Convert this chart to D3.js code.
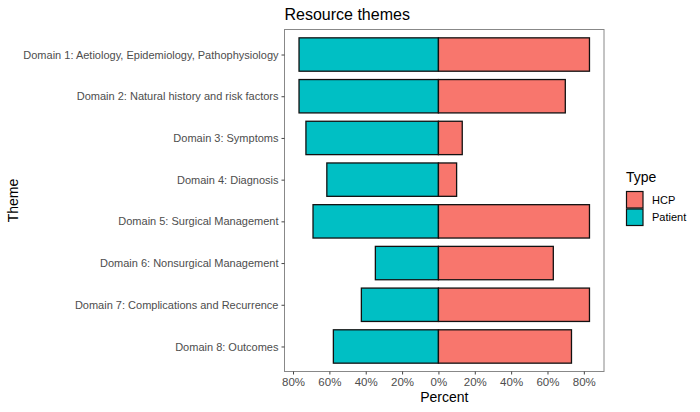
<!DOCTYPE html>
<html>
<head>
<meta charset="utf-8">
<script src="https://cdn.jsdelivr.net/npm/d3@7"></script>
<style>
body { margin: 0; background: #fff; }
text { font-family: "Liberation Sans", Arial, sans-serif; }
</style>
</head>
<body>
<svg id="chart" width="700" height="412"></svg>
<script>
// values (percent)
const themes = [
  "Domain 1: Aetiology, Epidemiology, Pathophysiology",
  "Domain 2: Natural history and risk factors",
  "Domain 3: Symptoms",
  "Domain 4: Diagnosis",
  "Domain 5: Surgical Management",
  "Domain 6: Nonsurgical Management",
  "Domain 7: Complications and Recurrence",
  "Domain 8: Outcomes"
];
const hcp = [83.1, 69.8, 13.1, 10.0, 83.1, 63.2, 83.1, 73.2];
const patient = [76.7, 76.7, 72.9, 61.4, 69.0, 34.7, 42.4, 57.8];
const types = ["HCP", "Patient"];
const typeColors = ["#F8766D", "#00BFC4"];
const xTicks = [-80, -60, -40, -20, 0, 20, 40, 60, 80];

var svg = d3.select("#chart");
var margin = { top: 29.5, right: 96, bottom: 40.5, left: 284.5 };
var width = 700 - margin.left - margin.right;
var height = 412 - margin.top - margin.bottom;

// 5% padding on each side like ggplot
var lo = -d3.max(patient), hi = d3.max(hcp);
var pad = (hi - lo) * 0.05;
var x = d3.scaleLinear().domain([lo - pad, hi + pad]).range([0, width]);

// discrete axis, 0.6 step of expansion each end
var step = height / (themes.length - 1 + 1.2);
var y = d3.scalePoint().domain(themes).range([0.6 * step, height - 0.6 * step]);
var bh = step * 0.8;

var color = d3.scaleOrdinal().domain(types).range(typeColors);

var g = svg.append("g").attr("transform", "translate(" + margin.left + "," + margin.top + ")");

var rows = themes.map(function(t, i) { return { theme: t, hcp: hcp[i], patient: patient[i] }; });

g.selectAll(".pat").data(rows).enter().append("rect")
  .attr("x", function(d) { return x(-d.patient); })
  .attr("width", function(d) { return x(0) - x(-d.patient); })
  .attr("y", function(d) { return y(d.theme) - bh / 2; })
  .attr("height", bh)
  .attr("fill", color("Patient"))
  .attr("stroke", "#111").attr("stroke-width", 1.3);

g.selectAll(".hcp").data(rows).enter().append("rect")
  .attr("x", x(0))
  .attr("width", function(d) { return x(d.hcp) - x(0); })
  .attr("y", function(d) { return y(d.theme) - bh / 2; })
  .attr("height", bh)
  .attr("fill", color("HCP"))
  .attr("stroke", "#111").attr("stroke-width", 1.3);

g.append("rect")
  .attr("width", width).attr("height", height)
  .attr("fill", "none").attr("stroke", "#888").attr("stroke-width", 1);

var xAxis = g.append("g")
  .attr("transform", "translate(0," + height + ")")
  .call(d3.axisBottom(x).tickValues(xTicks).tickSize(3).tickPadding(3)
    .tickFormat(function(d) { return Math.abs(d) + "%"; }));
xAxis.select(".domain").remove();
xAxis.selectAll("line").attr("stroke", "#444");
xAxis.selectAll("text").attr("fill", "#4D4D4D").style("font-size", "11.5px");

var yAxis = g.append("g")
  .call(d3.axisLeft(y).tickSize(3).tickPadding(3));
yAxis.select(".domain").remove();
yAxis.selectAll("line").attr("stroke", "#444");
yAxis.selectAll("text").attr("fill", "#4D4D4D").style("font-size", "11px");

svg.append("text")
  .attr("x", margin.left).attr("y", 20)
  .style("font-size", "16px").attr("fill", "#000")
  .text("Resource themes");

svg.append("text")
  .attr("x", margin.left + width / 2).attr("y", 402)
  .attr("text-anchor", "middle")
  .style("font-size", "14px").attr("fill", "#000")
  .text("Percent");

svg.append("text")
  .attr("transform", "translate(18," + (margin.top + height / 2) + ") rotate(-90)")
  .attr("text-anchor", "middle")
  .style("font-size", "14px").attr("fill", "#000")
  .text("Theme");

var leg = svg.append("g").attr("transform", "translate(626,170)");
leg.append("text").attr("x", 0).attr("y", 12)
  .style("font-size", "14px").attr("fill", "#000").text("Type");
types.forEach(function(t, i) {
  leg.append("rect")
    .attr("x", 0.5).attr("y", 21.5 + i * 17.5)
    .attr("width", 16.5).attr("height", 16.5)
    .attr("fill", color(t)).attr("stroke", "#111").attr("stroke-width", 1.2);
  leg.append("text")
    .attr("x", 26).attr("y", 30 + i * 17.5).attr("dy", "0.35em")
    .style("font-size", "11px").attr("fill", "#000").text(t);
});
</script>
</body>
</html>
